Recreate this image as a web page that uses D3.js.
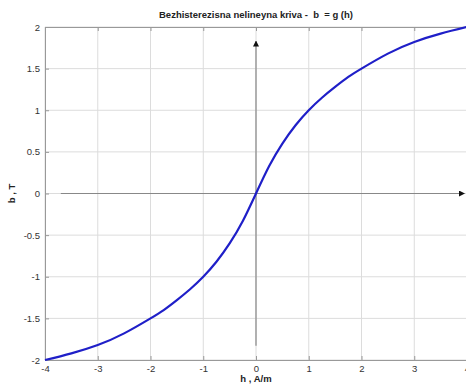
<!DOCTYPE html>
<html>
<head>
<meta charset="utf-8">
<script src="https://cdn.jsdelivr.net/npm/d3@7"></script>
<style>
  body { margin: 0; background: #fff; }
  text { font-family: Arial, "Liberation Sans", sans-serif; }
</style>
</head>
<body>
<svg width="466" height="385"></svg>
<script>
const hPos = [0, 0.25, 0.5, 0.75, 1, 1.25, 1.5, 1.75, 2, 2.5, 3, 3.5, 4];
const bPos = [0, 0.33, 0.6, 0.82, 1, 1.15, 1.28, 1.4, 1.5, 1.68, 1.82, 1.92, 2];
const hValues = hPos.slice(1).reverse().map(v => -v).concat(hPos);
const bValues = bPos.slice(1).reverse().map(v => -v).concat(bPos);
const xTicks = [-4, -3, -2, -1, 0, 1, 2, 3, 4];
const yTicks = [-2, -1.5, -1, -0.5, 0, 0.5, 1, 1.5, 2];
const hArrow = [-3.7, 3.95];
const bArrow = [-1.83, 1.83];

const svg = d3.select('svg');
const margin = { left: 45, right: -1, top: 27, bottom: 25 };
const width = +svg.attr('width');
const height = +svg.attr('height');

const x = d3.scaleLinear().domain([-4, 4]).range([margin.left, width - margin.right]);
const y = d3.scaleLinear().domain([-2, 2]).range([height - margin.bottom, margin.top]);

const grid = svg.append('g');
grid.selectAll('.vg').data(xTicks).join('line')
    .attr('x1', d => x(d)).attr('x2', d => x(d))
    .attr('y1', y(-2)).attr('y2', y(2))
    .attr('stroke', '#dcdcdc');
grid.selectAll('.hg').data(yTicks).join('line')
    .attr('y1', d => y(d)).attr('y2', d => y(d))
    .attr('x1', x(-4)).attr('x2', x(4))
    .attr('stroke', '#dcdcdc');

// axes box
svg.append('g')
    .attr('transform', `translate(0, ${y(-2)})`)
    .call(d3.axisBottom(x).tickValues(xTicks).tickSize(-4).tickPadding(5).tickFormat(d => String(d)))
    .call(g => g.selectAll('text').attr('font-size', 9.5).attr('fill', '#333'));
svg.append('g')
    .attr('transform', `translate(${x(-4)}, 0)`)
    .call(d3.axisLeft(y).tickValues(yTicks).tickSize(-4).tickPadding(5).tickFormat(d => String(d)))
    .call(g => g.selectAll('text').attr('font-size', 9.5).attr('fill', '#333'));
svg.append('g')
    .attr('transform', `translate(0, ${y(2)})`)
    .call(d3.axisTop(x).tickValues(xTicks).tickSize(-4).tickFormat(''));
svg.selectAll('.domain, .tick line').attr('stroke', '#999');

// arrows
const defs = svg.append('defs');
defs.append('marker')
    .attr('id', 'arr')
    .attr('viewBox', '0 0 10 10')
    .attr('refX', 9).attr('refY', 5)
    .attr('markerWidth', 6).attr('markerHeight', 6)
    .attr('markerUnits', 'userSpaceOnUse')
    .attr('orient', 'auto')
  .append('path')
    .attr('d', 'M0,0L10,5L0,10Z')
    .attr('fill', '#111');

svg.append('line')
    .attr('x1', x(hArrow[0])).attr('x2', x(hArrow[1]))
    .attr('y1', y(0)).attr('y2', y(0))
    .attr('stroke', '#888').attr('stroke-width', 1.2)
    .attr('marker-end', 'url(#arr)');
svg.append('line')
    .attr('x1', x(0)).attr('x2', x(0))
    .attr('y1', y(bArrow[0])).attr('y2', y(bArrow[1]))
    .attr('stroke', '#888').attr('stroke-width', 1.2)
    .attr('marker-end', 'url(#arr)');

// curve
const line = d3.line()
    .x((d, i) => x(hValues[i]))
    .y(d => y(d))
    .curve(d3.curveNatural);
svg.append('path')
    .attr('d', line(bValues))
    .attr('fill', 'none')
    .attr('stroke', '#1f1fc8')
    .attr('stroke-width', 2.2);

// labels
svg.append('text')
    .attr('x', x(0)).attr('y', 18)
    .attr('text-anchor', 'middle')
    .attr('font-size', 9.5).attr('font-weight', 'bold')
    .attr('fill', '#222')
    .attr('xml:space', 'preserve')
    .text('Bezhisterezisna nelineyna kriva -  b  = g (h)');
svg.append('text')
    .attr('x', x(0)).attr('y', 382)
    .attr('text-anchor', 'middle')
    .attr('font-size', 9.5).attr('font-weight', 'bold')
    .attr('fill', '#222')
    .text('h , A/m');
svg.append('text')
    .attr('transform', `translate(15, ${y(0)}) rotate(-90)`)
    .attr('text-anchor', 'middle')
    .attr('font-size', 9.5).attr('font-weight', 'bold')
    .attr('fill', '#222')
    .text('b , T');
</script>
</body>
</html>
